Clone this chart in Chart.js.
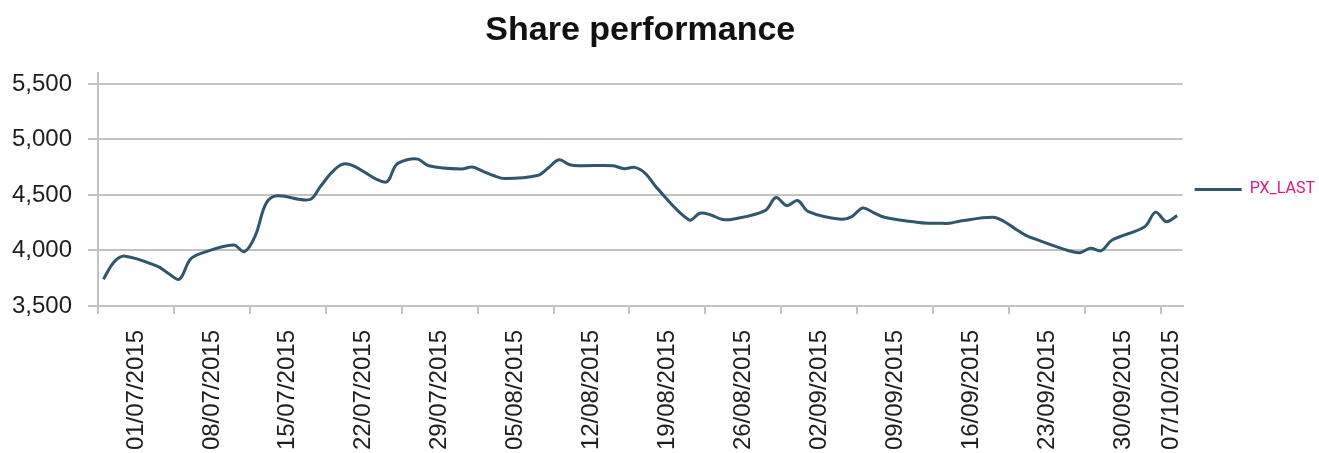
<!DOCTYPE html>
<html>
<head>
<meta charset="utf-8">
<title>Share performance</title>
<script src="https://cdn.jsdelivr.net/npm/chart.js@4.4.1/dist/chart.umd.min.js"></script>
<style>
  html, body { margin: 0; padding: 0; background: #fff; }
  #wrap { position: relative; width: 1319px; height: 453px; }
</style>
</head>
<body>
<div id="wrap"><canvas id="chart-line"></canvas></div>
<script>
// daily closes (trading days only)
const tradeDates = [
  "01/07/2015", "02/07/2015", "03/07/2015", "06/07/2015", "07/07/2015", "08/07/2015", "09/07/2015", "10/07/2015",
  "13/07/2015", "14/07/2015", "15/07/2015", "16/07/2015", "17/07/2015", "20/07/2015", "21/07/2015", "22/07/2015",
  "23/07/2015", "24/07/2015", "27/07/2015", "28/07/2015", "29/07/2015", "30/07/2015", "31/07/2015", "03/08/2015",
  "04/08/2015", "05/08/2015", "06/08/2015", "07/08/2015", "10/08/2015", "11/08/2015", "12/08/2015", "13/08/2015",
  "14/08/2015", "17/08/2015", "18/08/2015", "19/08/2015", "20/08/2015", "21/08/2015", "24/08/2015", "25/08/2015",
  "26/08/2015", "27/08/2015", "28/08/2015", "31/08/2015", "01/09/2015", "02/09/2015", "03/09/2015", "04/09/2015",
  "07/09/2015", "08/09/2015", "09/09/2015", "10/09/2015", "11/09/2015", "14/09/2015", "15/09/2015", "16/09/2015",
  "17/09/2015", "18/09/2015", "21/09/2015", "22/09/2015", "23/09/2015", "24/09/2015", "25/09/2015", "28/09/2015",
  "29/09/2015", "30/09/2015", "01/10/2015", "02/10/2015", "05/10/2015", "06/10/2015", "07/10/2015", "08/10/2015"
];
const pxLast = [
  3741, 3898, 3949, 3856, 3793, 3741, 3919, 3974,
  4049, 3989, 4133, 4425, 4492, 4458, 4575, 4697,
  4775, 4765, 4615, 4772, 4817, 4823, 4763, 4733,
  4751, 4712, 4673, 4648, 4675, 4742, 4817, 4772,
  4763, 4763, 4736, 4748, 4690, 4566, 4275, 4335,
  4320, 4281, 4281, 4359, 4477, 4404, 4450, 4350,
  4281, 4305, 4383, 4341, 4299, 4254, 4245, 4245,
  4245, 4265, 4299, 4263, 4199, 4139, 4100, 3998,
  3980, 4019, 3998, 4094, 4214, 4345, 4260, 4314
];
const weekLabels = [
  "01/07/2015", "08/07/2015", "15/07/2015", "22/07/2015", "29/07/2015", "05/08/2015", "12/08/2015", "19/08/2015",
  "26/08/2015", "02/09/2015", "09/09/2015", "16/09/2015", "23/09/2015", "30/09/2015", "07/10/2015"
];
const yTicks = [3500, 4000, 4500, 5000, 5500];

const DAY_MS = 86400000;
function parseDate(s) {
  const [d, m, y] = s.split("/").map(Number);
  return Date.UTC(y, m - 1, d);
}
const firstDay = parseDate(tradeDates[0]);
const dayIndex = (s) => Math.round((parseDate(s) - firstDay) / DAY_MS);

// each day gets a slot one unit wide, the point sits in its middle
const xMin = -0.5;
const xMax = dayIndex(tradeDates[tradeDates.length - 1]) + 0.5;
const weekStarts = weekLabels.map((s) => dayIndex(s) - 0.5);
const weekMids = weekStarts.map((s, i) => {
  const end = i + 1 < weekStarts.length ? weekStarts[i + 1] : xMax;
  return (s + Math.min(end, xMax)) / 2;
});

const points = tradeDates.map((s, i) => ({ x: dayIndex(s), y: pxLast[i] }));

const gridColor = "#c3c3c1";
const textColor = "#1e1e1e";
const lineColor = "#2f566a";
const tickFont = { family: "Liberation Sans", size: 24 };

Chart.defaults.font.family = "Liberation Sans";

const ctx = document.getElementById("chart-line");

const data = {
  datasets: [
    {
      label: "PX_LAST",
      data: points,
      borderColor: lineColor,
      backgroundColor: lineColor,
      borderWidth: 3,
      pointRadius: 0,
      tension: 0.35,
      xAxisID: "x",
    },
  ],
};

const options = {
  responsive: true,
  maintainAspectRatio: false,
  animation: false,
  layout: { padding: { right: -6 } },
  plugins: {
    title: {
      display: true,
      text: "Share performance",
      fullSize: false,
      color: "#111111",
      font: { family: "Liberation Sans", size: 34, weight: "bold" },
      padding: { top: 10, bottom: 22 },
    },
    legend: {
      position: "right",
      fullSize: false,
      labels: {
        usePointStyle: true,
        pointStyle: "line",
        pointStyleWidth: 47,
        padding: 12,
        color: "#e4157f",
        font: { family: "Roboto", size: 16 },
      },
    },
    tooltip: { enabled: false },
  },
  scales: {
    x: {
      type: "linear",
      position: "bottom",
      min: xMin,
      max: xMax,
      weight: 0,
      afterBuildTicks: (axis) => {
        axis.ticks = weekStarts.map((v) => ({ value: v }));
      },
      ticks: { display: false },
      grid: { drawOnChartArea: false, drawTicks: true, tickLength: 8, color: gridColor, lineWidth: 2 },
      border: { display: true, color: gridColor, width: 2 },
    },
    x2: {
      type: "linear",
      position: "bottom",
      min: xMin,
      max: xMax,
      weight: 1,
      afterBuildTicks: (axis) => {
        axis.ticks = weekMids.map((v) => ({ value: v }));
      },
      afterFit: (axis) => {
        axis.height = 139;
        axis.paddingLeft = 0;
        axis.paddingRight = 0;
      },
      grid: { display: false, drawTicks: false },
      border: { display: false },
      ticks: {
        autoSkip: false,
        minRotation: 90,
        maxRotation: 90,
        padding: 16,
        color: textColor,
        font: tickFont,
        callback: (value, index) => weekLabels[index],
      },
    },
    y: {
      min: 3500,
      max: 5600,
      afterBuildTicks: (axis) => {
        axis.ticks = yTicks.map((v) => ({ value: v }));
      },
      afterFit: (axis) => {
        axis.width = 98;
      },
      grid: { color: gridColor, lineWidth: 2, tickLength: 10 },
      border: { color: gridColor, width: 2 },
      ticks: {
        padding: 16,
        color: textColor,
        font: tickFont,
        callback: (value) => value.toLocaleString("en-US"),
      },
    },
  },
};

new Chart(ctx, { type: "line", data: data, options: options });
</script>
</body>
</html>
